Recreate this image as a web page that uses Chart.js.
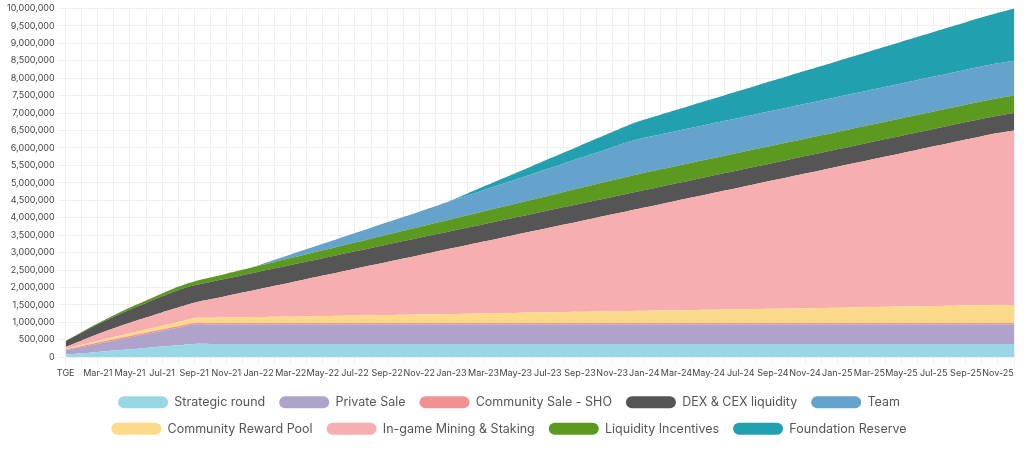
<!DOCTYPE html>
<html><head><meta charset="utf-8">
<script src="https://cdn.jsdelivr.net/npm/chart.js@4/dist/chart.umd.min.js"></script>
<style>html,body{margin:0;padding:0;background:#fff}#w{width:1024px;height:451px}</style>
</head><body><div id="w"><canvas id="c"></canvas></div>
<script>
const monthNames=['Jan','Feb','Mar','Apr','May','Jun','Jul','Aug','Sep','Oct','Nov','Dec'];
const years=['21','22','23','24','25'];
const labels=[];
years.forEach(y=>monthNames.forEach(m=>labels.push(m+'-'+y)));
labels[0]='TGE';
// values in thousands of tokens, monthly, stacking order bottom to top
const strategicRound=[76,114,152,190,228,266,304,342,380,380,380,380,380,380,380,380,380,380,380,380,380,380,380,380,380,380,380,380,380,380,380,380,380,380,380,380,380,380,380,380,380,380,380,380,380,380,380,380,380,380,380,380,380,380,380,380,380,380,380,380];
const privateSale=[120,175,230,285,340,395,450,505,560,560,560,560,560,560,560,560,560,560,560,560,560,560,560,560,560,560,560,560,560,560,560,560,560,560,560,560,560,560,560,560,560,560,560,560,560,560,560,560,560,560,560,560,560,560,560,560,560,560,560,560];
const communitySale=[30,35,40,40,40,40,40,40,40,40,40,40,40,40,40,40,40,40,40,40,40,40,40,40,40,40,40,40,40,40,40,40,40,40,40,40,40,40,40,40,40,40,40,40,40,40,40,40,40,40,40,40,40,40,40,40,40,40,40,40];
const rewardPool=[20,35,50,65,80,95,110,125,140,148,155,163,170,178,185,193,200,208,215,223,230,238,245,253,260,268,275,283,290,298,305,313,320,328,335,343,350,358,365,373,380,388,395,403,410,418,425,433,440,448,455,463,470,478,485,493,500,508,515,520];
const miningStaking=[50,120,190,250,300,340,380,410,440,530,620,710,800,890,980,1070,1160,1250,1340,1430,1520,1610,1700,1790,1880,1970,2060,2150,2240,2330,2420,2510,2600,2690,2780,2870,2960,3050,3140,3230,3320,3410,3500,3590,3680,3770,3860,3950,4040,4130,4220,4310,4400,4490,4580,4670,4760,4850,4930,5000];
const dexCex=[170,230,280,330,380,420,460,500,500,500,500,500,500,500,500,500,500,500,500,500,500,500,500,500,500,500,500,500,500,500,500,500,500,500,500,500,500,500,500,500,500,500,500,500,500,500,500,500,500,500,500,500,500,500,500,500,500,500,500,500];
const liquidityIncentives=[0,14,28,42,56,70,84,98,112,126,140,154,168,182,196,210,224,238,252,266,280,294,308,322,336,350,364,378,392,406,420,434,448,462,476,490,500,500,500,500,500,500,500,500,500,500,500,500,500,500,500,500,500,500,500,500,500,500,500,500];
const team=[0,0,0,0,0,0,0,0,0,0,0,0,20,62,104,146,188,230,272,314,356,398,440,482,524,566,608,650,692,734,776,818,860,902,944,986,1000,1000,1000,1000,1000,1000,1000,1000,1000,1000,1000,1000,1000,1000,1000,1000,1000,1000,1000,1000,1000,1000,1000,1000];
const foundationReserve=[0,0,0,0,0,0,0,0,0,0,0,0,0,0,0,0,0,0,0,0,0,0,0,0,20,62,104,146,188,230,272,314,356,398,440,482,524,566,608,650,692,734,776,818,860,902,944,986,1028,1070,1112,1154,1196,1238,1280,1322,1364,1406,1450,1500];

const series=[
 ['Strategic round',strategicRound,'#9ad7e5',0],
 ['Private Sale',privateSale,'#afa2cb',1],
 ['Community Sale - SHO',communitySale,'#f29192',2],
 ['Community Reward Pool',rewardPool,'#fdd98a',5],
 ['In-game Mining & Staking',miningStaking,'#f7aeb0',6],
 ['DEX & CEX liquidity',dexCex,'#555555',3],
 ['Liquidity Incentives',liquidityIncentives,'#5b9a1e',7],
 ['Team',team,'#65a3cd',4],
 ['Foundation Reserve',foundationReserve,'#22a0b0',8]
];
const rank={};series.forEach(s=>rank[s[0]]=s[3]);
new Chart(document.getElementById('c'),{
 type:'line',
 data:{labels,datasets:series.map((s,i)=>({label:s[0],data:s[1].map(v=>v*1000),backgroundColor:s[2],borderColor:s[2],borderWidth:0,pointRadius:0,fill:i===0?'origin':'-1',tension:0.4}))},
 options:{responsive:true,maintainAspectRatio:false,animation:false,
  layout:{padding:{top:8,right:10,left:4,bottom:6}},
  plugins:{tooltip:{enabled:false},
   legend:{position:'bottom',labels:{boxWidth:50,boxHeight:12,useBorderRadius:true,borderRadius:6,padding:14,color:'#555',font:{family:'Inter',size:12.5},sort:(a,b)=>rank[a.text]-rank[b.text]}}},
  scales:{
   x:{grid:{color:'#f0f0f0'},border:{display:false},ticks:{autoSkip:false,maxRotation:0,color:'#444',font:{family:'Inter',size:9},callback:function(v,i){return i%2===0?this.getLabelForValue(v):'';}}},
   y:{stacked:true,min:0,max:10000000,grid:{color:'#f0f0f0'},border:{display:false},ticks:{stepSize:500000,color:'#444',font:{family:'Inter',size:9}}}
  }}
});
</script></body></html>
